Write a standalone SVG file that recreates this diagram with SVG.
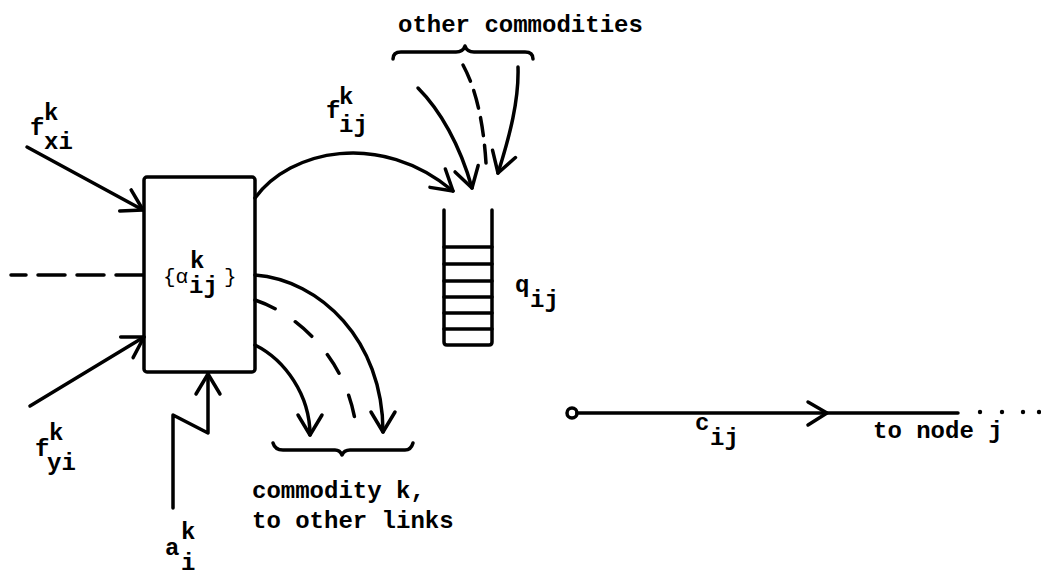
<svg xmlns="http://www.w3.org/2000/svg" width="1041" height="575" viewBox="0 0 1041 575">
<style>
.ln{fill:none;stroke:#000;stroke-width:3.5;stroke-linecap:round;stroke-linejoin:round}
.t{font-family:"Liberation Mono","Courier New",monospace;font-size:24px;font-weight:bold;fill:#000}
.s{font-family:"Liberation Mono","Courier New",monospace;font-size:21px;fill:#000}
</style>
<defs>
<marker id="arr" markerUnits="userSpaceOnUse" markerWidth="30" markerHeight="30" viewBox="-25 -15 30 30" refX="0" refY="0" orient="auto" overflow="visible">
<path d="M-20,-12 L0,0 L-20,12" fill="none" stroke="#000" stroke-width="3.5" stroke-linecap="round" stroke-linejoin="round"/>
</marker>
</defs>
<rect width="1041" height="575" fill="#fff"/>

<g id="node-router">
<rect class="ln" x="144" y="177" width="111" height="195" rx="3"/>
<text class="s" x="163" y="283">{α</text>
<text class="t" x="190" y="268">k</text>
<text class="t" x="189" y="293">ij</text>
<text class="s" x="224" y="283">}</text>
</g>

<g id="node-queue">
<path class="ln" d="M444,210 L444,342 Q444,345 447,345 L489,345 Q492,345 492,342 L492,210"/>
<path class="ln" d="M444,247 L492,247 M444,264 L492,264 M444,281 L492,281 M444,297 L492,297 M444,313 L492,313 M444,329 L492,329"/>
<text class="t" x="515" y="292">q</text>
<text class="t" x="530" y="307">ij</text>
</g>

<g id="node-link">
<circle cx="572" cy="413" r="5" fill="#fff" stroke="#000" stroke-width="3.5"/>
<circle cx="980" cy="412" r="2.2" fill="#000"/>
<circle cx="1002" cy="412" r="2.2" fill="#000"/>
<circle cx="1023" cy="412" r="2.2" fill="#000"/>
<circle cx="1039" cy="412" r="2.2" fill="#000"/>
<text class="t" x="695" y="430">c</text>
<text class="t" x="710" y="445">ij</text>
<text class="t" x="873" y="438">to node j</text>
</g>

<g id="labels">
<text class="t" x="30" y="135">f</text>
<text class="t" x="44" y="120">k</text>
<text class="t" x="44" y="149">xi</text>
<text class="t" x="35" y="456">f</text>
<text class="t" x="49" y="440">k</text>
<text class="t" x="47" y="470">yi</text>
<text class="t" x="165" y="555">a</text>
<text class="t" x="181" y="539">k</text>
<text class="t" x="181" y="570">i</text>
<text class="t" x="326" y="118">f</text>
<text class="t" x="339" y="104">k</text>
<text class="t" x="339" y="132">ij</text>
<text class="t" x="398" y="32">other commodities</text>
<text class="t" x="252" y="498">commodity k,</text>
<text class="t" x="252" y="528">to other links</text>
</g>

<g id="connectors">
<path class="ln" d="M27,147 L143,210" marker-end="url(#arr)"/>
<path class="ln" d="M143,275 L11,275" stroke-dasharray="27 12" stroke-linecap="butt"/>
<path class="ln" d="M30,406 L144,337" marker-end="url(#arr)"/>
<path class="ln" d="M173,508 L173,415 L208,433 L208,374" marker-end="url(#arr)"/>
<path class="ln" d="M255,198 C290,150 380,130 453,191" marker-end="url(#arr)"/>
<path class="ln" d="M418,88 C440,110 460,145 472,188" marker-end="url(#arr)"/>
<path class="ln" d="M463,65 Q482,100 486,163" stroke-dasharray="18 10"/>
<path class="ln" d="M518,67 C519,100 510,135 498,173" marker-end="url(#arr)"/>
<path class="ln" d="M393,59 Q393,52 401,52 L456,52 Q463,52 465,46 Q467,52 474,52 L525,52 Q533,52 533,59"/>
<path class="ln" d="M255,275 C320,280 383,340 383,432" marker-end="url(#arr)"/>
<path class="ln" d="M255,300 C300,315 345,360 355,420" stroke-dasharray="22 24" stroke-linecap="butt"/>
<path class="ln" d="M255,345 C285,360 310,395 310,435" marker-end="url(#arr)"/>
<path class="ln" d="M273,443 Q275,450 283,450 L335,450 Q340,450 342,455 Q344,450 350,450 L405,450 Q411,450 413,443"/>
<path class="ln" d="M577,413 L958,413"/>
<path class="ln" d="M808,402 L827,413 L808,425"/>
</g>
</svg>
